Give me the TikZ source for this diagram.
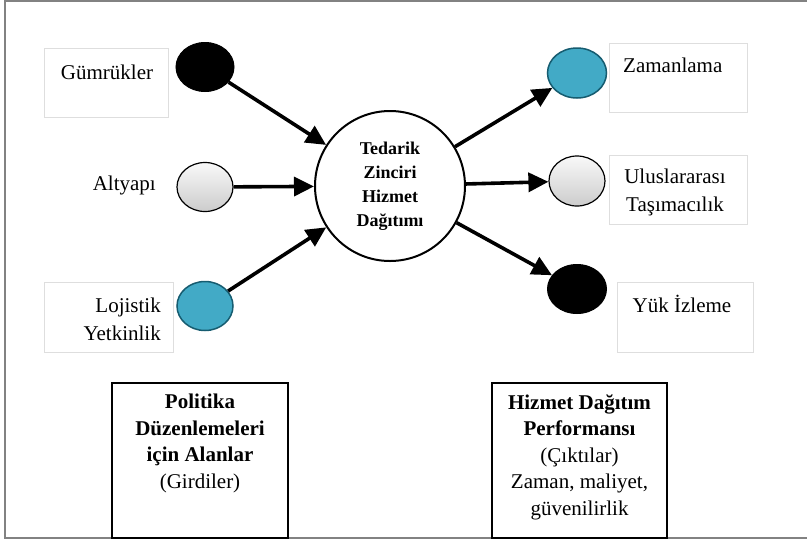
\documentclass[tikz,border=0pt]{standalone}
\usepackage{fontspec}
\setmainfont{Liberation Serif}
\usepackage{tikz}
\usetikzlibrary{shapes,arrows.meta,positioning,calc}

\definecolor{dotblue}{RGB}{66,170,198}
\definecolor{dotedge}{RGB}{22,92,112}
\definecolor{framegray}{RGB}{130,130,130}
\definecolor{boxgray}{RGB}{222,222,222}

\begin{document}
\begin{tikzpicture}[x=1pt, y=-1pt,
    lbl/.style={font=\fontsize{21}{28}\selectfont, inner sep=0pt},
    thinbox/.style={draw=boxgray, line width=0.8pt},
    dotblack/.style={ellipse, draw=black, fill=black, line width=1pt},
    dotgray/.style={ellipse, draw=black, line width=1.2pt, top color=gray!5, bottom color=gray!40},
    dotcyan/.style={ellipse, draw=dotedge, fill=dotblue, line width=1.5pt},
    bigbox/.style={draw, line width=1.2pt, minimum width=176pt},
    flow/.style={-{Triangle[length=20pt,width=19pt]}, line width=3.6pt}]
            \useasboundingbox (0,0) rectangle (807,542);
            \draw[framegray, line width=2pt] (807,1) -- (5,1) -- (5,538) -- (807,538);

            % inputs
            \node[thinbox, minimum width=124pt, minimum height=69pt] (gumbox) at (106,83) {};
            \node[lbl] (gum) at (107,72) {Gümrükler};
            \node[dotblack, minimum width=58pt, minimum height=49pt] (gumdot) at (205,67) {};
            \node[lbl, anchor=east] (alt) at (156,185) {Altyapı};
            \node[dotgray, minimum width=56pt, minimum height=49pt] (altdot) at (205,187) {};
            \node[thinbox, minimum width=129pt, minimum height=70pt] (lojbox) at (108.5,317) {};
            \node[lbl, align=right, anchor=east] (loj) at (161,319) {Lojistik\\Yetkinlik};
            \node[dotcyan, minimum width=56pt, minimum height=49pt] (lojdot) at (205,306) {};

            \node[circle, draw, line width=2pt, minimum size=150pt, align=center,
                  font=\fontsize{18}{24}\selectfont\bfseries] (hub) at (390,186)
                  {Tedarik\\Zinciri\\Hizmet\\Dağıtımı};

            % outputs
            \node[dotcyan, minimum width=59pt, minimum height=50pt] (zamdot) at (577,73) {};
            \node[thinbox, minimum width=138pt, minimum height=69pt] (zambox) at (678,77.5) {};
            \node[lbl, anchor=west] (zam) at (623,65) {Zamanlama};
            \node[dotgray, minimum width=56pt, minimum height=50pt] (uludot) at (577,181) {};
            \node[thinbox, minimum width=138pt, minimum height=69pt] (ulubox) at (678,189.5) {};
            \node[lbl, align=center] (ulu) at (675,192) {Uluslararası\\Taşımacılık};
            \node[dotblack, minimum width=59pt, minimum height=49pt] (yukdot) at (577,289) {};
            \node[thinbox, minimum width=136pt, minimum height=70pt] (yukbox) at (685,317) {};
            \node[lbl] (yuk) at (682,304) {Yük İzleme};

            \draw[flow] (gumdot) -- (hub);
            \draw[flow] (altdot) -- (hub);
            \draw[flow] (lojdot) -- (hub);
            \draw[flow] (hub) -- (zamdot);
            \draw[flow] (hub) -- (uludot);
            \draw[flow] (hub) -- (yukdot);

            % bottom boxes
            \node[bigbox, minimum height=155pt] (polbox) at (200,460.5) {};
            \node[lbl, font=\fontsize{21}{26.5}\selectfont, align=center, anchor=north] (pol) at (200,394)
                  {\textbf{Politika}\\\textbf{Düzenlemeleri}\\\textbf{için Alanlar}\\(Girdiler)};
            \node[bigbox, minimum height=155pt, minimum width=175pt] (perbox) at (579.5,460.5) {};
            \node[lbl, font=\fontsize{21}{26.5}\selectfont, align=center, anchor=north] (per) at (579.5,394)
                  {\textbf{Hizmet Dağıtım}\\\textbf{Performansı}\\(Çıktılar)\\Zaman, maliyet,\\güvenilirlik};
        \end{tikzpicture}
\end{document}
